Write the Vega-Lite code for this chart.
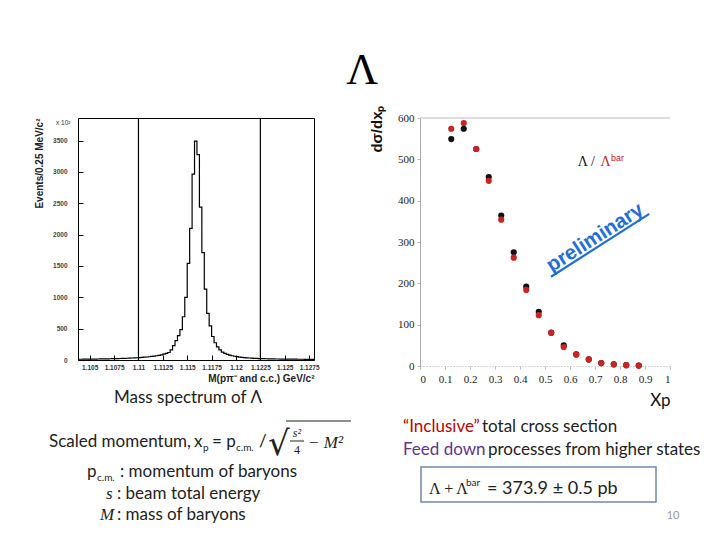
{
"$schema": "https://vega.github.io/schema/vega-lite/v6.json",
"background": "white",
"padding": {"left": 33, "top": 49, "right": 0, "bottom": 0},
"title": {"text": "Λ", "font": "Liberation Serif", "fontSize": 44, "fontWeight": "normal", "color": "black", "anchor": "middle", "offset": 12, "dx": -5},
"columns": 2,
"spacing": {"column": 106, "row": 19},
"bounds": "flush",
"align": "each",
"config": {"view": {"stroke": null}, "axis": {"labelOverlap": false}},
"concat": [
{
 "width": 236, "height": 242,
 "view": {"stroke": "black", "strokeWidth": 1},
 "title": {"text": "x 10²", "font": "Liberation Sans", "fontSize": 6.5, "fontWeight": "normal", "color": "#333", "anchor": "start", "frame": "group", "dx": -22, "offset": -9},
 "layer": [
  {"data": {"values": [
{"m":1.10375,"n":12},{"m":1.104,"n":12},{"m":1.10425,"n":13},{"m":1.1045,"n":13},{"m":1.10475,"n":14},{"m":1.105,"n":14},{"m":1.10525,"n":15},{"m":1.1055,"n":15},{"m":1.10575,"n":16},{"m":1.106,"n":17},{"m":1.10625,"n":17},{"m":1.1065,"n":18},{"m":1.10675,"n":19},{"m":1.107,"n":20},{"m":1.10725,"n":21},{"m":1.1075,"n":22},{"m":1.10775,"n":23},{"m":1.108,"n":24},{"m":1.10825,"n":25},{"m":1.1085,"n":27},{"m":1.10875,"n":28},{"m":1.109,"n":30},{"m":1.10925,"n":32},{"m":1.1095,"n":34},{"m":1.10975,"n":36},{"m":1.11,"n":39},{"m":1.11025,"n":42},{"m":1.1105,"n":45},{"m":1.11075,"n":48},{"m":1.111,"n":52},{"m":1.11125,"n":57},{"m":1.1115,"n":62},{"m":1.11175,"n":68},{"m":1.112,"n":75},{"m":1.11225,"n":83},{"m":1.1125,"n":93},{"m":1.11275,"n":105},{"m":1.113,"n":120},{"m":1.11325,"n":160},{"m":1.1135,"n":230},{"m":1.11375,"n":310},{"m":1.114,"n":390},{"m":1.11425,"n":485},{"m":1.1145,"n":690},{"m":1.11475,"n":1000},{"m":1.115,"n":1540},{"m":1.11525,"n":2100},{"m":1.1155,"n":2965},{"m":1.11575,"n":3490},{"m":1.116,"n":3277},{"m":1.11625,"n":2440},{"m":1.1165,"n":1712},{"m":1.11675,"n":1130},{"m":1.117,"n":745},{"m":1.11725,"n":545},{"m":1.1175,"n":375},{"m":1.11775,"n":275},{"m":1.118,"n":210},{"m":1.11825,"n":160},{"m":1.1185,"n":125},{"m":1.11875,"n":105},{"m":1.119,"n":90},{"m":1.11925,"n":78},{"m":1.1195,"n":68},{"m":1.11975,"n":60},{"m":1.12,"n":53},{"m":1.12025,"n":47},{"m":1.1205,"n":42},{"m":1.12075,"n":38},{"m":1.121,"n":35},{"m":1.12125,"n":32},{"m":1.1215,"n":29},{"m":1.12175,"n":27},{"m":1.122,"n":25},{"m":1.12225,"n":23},{"m":1.1225,"n":22},{"m":1.12275,"n":21},{"m":1.123,"n":20},{"m":1.12325,"n":19},{"m":1.1235,"n":18},{"m":1.12375,"n":17},{"m":1.124,"n":16},{"m":1.12425,"n":16},{"m":1.1245,"n":15},{"m":1.12475,"n":15},{"m":1.125,"n":14},{"m":1.12525,"n":14},{"m":1.1255,"n":13},{"m":1.12575,"n":13},{"m":1.126,"n":13},{"m":1.12625,"n":12},{"m":1.1265,"n":12},{"m":1.12675,"n":12},{"m":1.127,"n":11},{"m":1.12725,"n":11},{"m":1.1275,"n":11},{"m":1.12775,"n":10},{"m":1.128,"n":10}
  ]},
  "mark": {"type": "line", "interpolate": "step-after", "color": "black", "strokeWidth": 1.2, "clip": true},
  "encoding": {
   "x": {"field": "m", "type": "quantitative", "scale": {"domain": [1.1038, 1.128], "nice": false, "zero": false},
    "axis": {"values": [1.105,1.1075,1.11,1.1125,1.115,1.1175,1.12,1.1225,1.125,1.1275], "format": ".4~f", "labelOverlap": false, "labelFont": "Liberation Sans", "labelFontSize": 6.5, "labelFontWeight": "bold", "labelColor": "#333", "tickSize": -5, "tickColor": "black", "labelPadding": 9, "domain": false, "grid": false,
     "title": "M(pπ⁻ and c.c.) GeV/c²", "titleFont": "Liberation Sans", "titleFontSize": 10, "titleFontWeight": "bold", "titleColor": "#222", "titleAnchor": "end", "titlePadding": 3}},
   "y": {"field": "n", "type": "quantitative", "scale": {"domain": [0, 3860], "nice": false},
    "axis": {"values": [0,500,1000,1500,2000,2500,3000,3500], "format": "d", "labelOverlap": false, "labelFont": "Liberation Sans", "labelFontSize": 6.5, "labelFontWeight": "bold", "labelColor": "#444", "tickSize": -5, "tickColor": "black", "labelPadding": 16, "domain": false, "grid": false,
     "title": "Events/0.25 MeV/c²", "titleFont": "Liberation Sans", "titleFontSize": 10, "titleFontWeight": "bold", "titleColor": "#222", "titleAngle": 270, "titleAlign": "right", "titleAnchor": "end", "titleBaseline": "middle", "titleX": -39, "titleY": 0}}
  }},
  {"data": {"values": [{"cut": 1.11}, {"cut": 1.1225}]},
   "mark": {"type": "rule", "color": "black", "strokeWidth": 1.2},
   "encoding": {"x": {"field": "cut", "type": "quantitative", "scale": {"domain": [1.1038, 1.128], "nice": false, "zero": false},
    "axis": {"values": [1.105,1.1075,1.11,1.1125,1.115,1.1175,1.12,1.1225,1.125,1.1275], "format": ".4~f", "labelOverlap": false, "labelFont": "Liberation Sans", "labelFontSize": 6.5, "labelFontWeight": "bold", "labelColor": "#333", "tickSize": -5, "tickColor": "black", "labelPadding": 9, "domain": false, "grid": false,
     "title": "M(pπ⁻ and c.c.) GeV/c²", "titleFont": "Liberation Sans", "titleFontSize": 10, "titleFontWeight": "bold", "titleColor": "#222", "titleAnchor": "end", "titlePadding": 3}}}}
 ]
},
{
 "width": 250, "height": 248,
 "encoding": {
  "x": {"type": "quantitative", "scale": {"domain": [0, 1], "nice": false, "zero": false},
   "axis": {"values": [0,0.1,0.2,0.3,0.4,0.5,0.6,0.7,0.8,0.9,1], "format": "~g", "labelOverlap": false, "labelFont": "Liberation Serif", "labelFontSize": 11, "labelColor": "#222", "tickSize": 3, "tickColor": "#bbb", "labelPadding": 4, "domainColor": "#aaa", "domainDash": [1, 2], "grid": false,
    "title": "Xp", "titleFont": "Lato", "titleFontSize": 17, "titleFontWeight": "normal", "titleColor": "#111", "titleAnchor": "end", "titlePadding": 8}},
  "y": {"type": "quantitative", "scale": {"domain": [0, 600], "nice": false, "zero": false},
   "axis": {"values": [0,100,200,300,400,500,600], "format": "d", "labelOverlap": false, "labelFont": "Liberation Serif", "labelFontSize": 11, "labelColor": "#222", "tickSize": 3, "tickColor": "#bbb", "labelPadding": 3, "domainColor": "#aaa", "grid": false,
    "title": "dσ/dxₚ", "titleFont": "Liberation Sans", "titleFontSize": 15, "titleFontWeight": "bold", "titleColor": "#111", "titleAngle": 270, "titleAlign": "right", "titleAnchor": "end", "titleBaseline": "middle", "titleX": -44, "titleY": -13}}
 },
 "layer": [
  {"data": {"values": [
{"xp":0.125,"ds":549,"s":"Λ"},{"xp":0.175,"ds":574,"s":"Λ"},{"xp":0.225,"ds":525,"s":"Λ"},{"xp":0.275,"ds":457,"s":"Λ"},{"xp":0.325,"ds":364,"s":"Λ"},{"xp":0.375,"ds":275,"s":"Λ"},{"xp":0.425,"ds":192,"s":"Λ"},{"xp":0.475,"ds":131,"s":"Λ"},{"xp":0.525,"ds":81,"s":"Λ"},{"xp":0.575,"ds":50,"s":"Λ"},{"xp":0.625,"ds":28,"s":"Λ"},{"xp":0.675,"ds":16,"s":"Λ"},{"xp":0.725,"ds":7,"s":"Λ"},{"xp":0.775,"ds":4,"s":"Λ"},{"xp":0.825,"ds":2,"s":"Λ"},{"xp":0.875,"ds":1,"s":"Λ"},
{"xp":0.125,"ds":574,"s":"Λbar"},{"xp":0.175,"ds":588,"s":"Λbar"},{"xp":0.225,"ds":525,"s":"Λbar"},{"xp":0.275,"ds":448,"s":"Λbar"},{"xp":0.325,"ds":354,"s":"Λbar"},{"xp":0.375,"ds":262,"s":"Λbar"},{"xp":0.425,"ds":184,"s":"Λbar"},{"xp":0.475,"ds":123,"s":"Λbar"},{"xp":0.525,"ds":80,"s":"Λbar"},{"xp":0.575,"ds":46,"s":"Λbar"},{"xp":0.625,"ds":28,"s":"Λbar"},{"xp":0.675,"ds":16,"s":"Λbar"},{"xp":0.725,"ds":7,"s":"Λbar"},{"xp":0.775,"ds":4,"s":"Λbar"},{"xp":0.825,"ds":2,"s":"Λbar"},{"xp":0.875,"ds":1,"s":"Λbar"}
  ]},
  "mark": {"type": "point", "filled": true, "size": 38, "opacity": 1},
  "encoding": {
   "x": {"field": "xp"},
   "y": {"field": "ds"},
   "color": {"field": "s", "type": "nominal", "scale": {"domain": ["Λ", "Λbar"], "range": ["#111111", "#cc2222"]}, "legend": null}
  }},
  {"data": {"values": [{"frame": "top"}]}, "mark": {"type": "rule", "color": "#bbbbbb", "strokeWidth": 1}, "encoding": {"x": null, "y": {"datum": 600}}},
  {"data": {"values": [{"t": "Λ /"}]}, "mark": {"type": "text", "font": "Liberation Serif", "fontSize": 14, "align": "left", "baseline": "alphabetic", "color": "#111"},
   "encoding": {"text": {"field": "t"}, "x": {"datum": 0.631}, "y": {"datum": 484}}},
  {"data": {"values": [{"t": "Λ"}]}, "mark": {"type": "text", "font": "Liberation Serif", "fontSize": 14, "align": "left", "baseline": "alphabetic", "color": "#cc2222"},
   "encoding": {"text": {"field": "t"}, "x": {"datum": 0.722}, "y": {"datum": 484}}},
  {"data": {"values": [{"t": "bar"}]}, "mark": {"type": "text", "font": "Liberation Sans", "fontSize": 9, "align": "left", "baseline": "alphabetic", "color": "#cc2222"},
   "encoding": {"text": {"field": "t"}, "x": {"datum": 0.764}, "y": {"datum": 497}}},
  {"data": {"values": [{"t": "preliminary"}]}, "mark": {"type": "text", "font": "Liberation Sans", "fontSize": 20.5, "fontWeight": "bold", "align": "center", "baseline": "alphabetic", "angle": -32.6, "color": "#1f6fd6"},
   "encoding": {"text": {"field": "t"}, "x": {"datum": 0.7136}, "y": {"datum": 298}}},
  {"data": {"values": [{"t": "underline"}]}, "mark": {"type": "rule", "color": "#1f6fd6", "strokeWidth": 2.2},
   "encoding": {"x": {"datum": 0.524}, "y": {"datum": 216}, "x2": {"datum": 0.917}, "y2": {"datum": 368}}}
 ]
},
{
 "width": 236, "height": 150,
 "encoding": {
  "x": {"type": "quantitative", "scale": {"domain": [77, 313], "nice": false, "zero": false}, "axis": null},
  "y": {"type": "quantitative", "scale": {"domain": [385, 535], "nice": false, "zero": false, "reverse": true}, "axis": null}
 },
 "layer": [
  {"data": {"values": [{"t": "Mass spectrum of Λ"}]}, "mark": {"type": "text", "font": "Lato", "fontSize": 17, "align": "center", "baseline": "middle", "color": "#222"},
   "encoding": {"text": {"field": "t"}, "x": {"datum": 187}, "y": {"datum": 398}}},
  {"data": {"values": [{"t": "Scaled momentum,"}]}, "mark": {"type": "text", "font": "Lato", "fontSize": 17, "align": "left", "baseline": "alphabetic", "color": "#222"},
   "encoding": {"text": {"field": "t"}, "x": {"datum": 48}, "y": {"datum": 447}}},
  {"data": {"values": [{"t": "x"}]}, "mark": {"type": "text", "font": "Lato", "fontSize": 17, "align": "left", "baseline": "alphabetic", "color": "#222"},
   "encoding": {"text": {"field": "t"}, "x": {"datum": 193}, "y": {"datum": 447}}},
  {"data": {"values": [{"t": "p"}]}, "mark": {"type": "text", "font": "Lato", "fontSize": 10, "align": "left", "baseline": "alphabetic", "color": "#222"},
   "encoding": {"text": {"field": "t"}, "x": {"datum": 202}, "y": {"datum": 451}}},
  {"data": {"values": [{"t": "= p"}]}, "mark": {"type": "text", "font": "Lato", "fontSize": 17, "align": "left", "baseline": "alphabetic", "color": "#222"},
   "encoding": {"text": {"field": "t"}, "x": {"datum": 211}, "y": {"datum": 447}}},
  {"data": {"values": [{"t": "c.m."}]}, "mark": {"type": "text", "font": "Lato", "fontSize": 10, "align": "left", "baseline": "alphabetic", "color": "#222"},
   "encoding": {"text": {"field": "t"}, "x": {"datum": 235}, "y": {"datum": 451}}},
  {"data": {"values": [{"t": "/"}]}, "mark": {"type": "text", "font": "Lato", "fontSize": 17, "align": "left", "baseline": "alphabetic", "color": "#222"},
   "encoding": {"text": {"field": "t"}, "x": {"datum": 258}, "y": {"datum": 447}}},
  {"data": {"values": [{"t": "√"}]}, "mark": {"type": "text", "font": "DejaVu Serif", "fontSize": 34, "align": "left", "baseline": "alphabetic", "color": "#222"},
   "encoding": {"text": {"field": "t"}, "x": {"datum": 267}, "y": {"datum": 455}}},
  {"data": {"values": [{"t": "radical bar"}]}, "mark": {"type": "rule", "color": "#222", "strokeWidth": 1.2},
   "encoding": {"x": {"datum": 285}, "x2": {"datum": 350}, "y": {"datum": 421}, "y2": {"datum": 421}}},
  {"data": {"values": [{"t": "s²"}]}, "mark": {"type": "text", "font": "Liberation Serif", "fontSize": 12, "fontStyle": "italic", "align": "center", "baseline": "alphabetic", "color": "#222"},
   "encoding": {"text": {"field": "t"}, "x": {"datum": 296}, "y": {"datum": 437}}},
  {"data": {"values": [{"t": "fraction bar"}]}, "mark": {"type": "rule", "color": "#222", "strokeWidth": 1},
   "encoding": {"x": {"datum": 289}, "x2": {"datum": 303}, "y": {"datum": 441}, "y2": {"datum": 441}}},
  {"data": {"values": [{"t": "4"}]}, "mark": {"type": "text", "font": "Liberation Serif", "fontSize": 12, "align": "center", "baseline": "alphabetic", "color": "#222"},
   "encoding": {"text": {"field": "t"}, "x": {"datum": 296}, "y": {"datum": 454}}},
  {"data": {"values": [{"t": "− M²"}]}, "mark": {"type": "text", "font": "Liberation Serif", "fontSize": 17, "fontStyle": "italic", "align": "left", "baseline": "alphabetic", "color": "#222"},
   "encoding": {"text": {"field": "t"}, "x": {"datum": 307}, "y": {"datum": 448}}},
  {"data": {"values": [{"t": "p"}]}, "mark": {"type": "text", "font": "Lato", "fontSize": 17, "align": "left", "baseline": "alphabetic", "color": "#222"},
   "encoding": {"text": {"field": "t"}, "x": {"datum": 86}, "y": {"datum": 477}}},
  {"data": {"values": [{"t": "c.m."}]}, "mark": {"type": "text", "font": "Lato", "fontSize": 10, "align": "left", "baseline": "alphabetic", "color": "#222"},
   "encoding": {"text": {"field": "t"}, "x": {"datum": 96}, "y": {"datum": 481}}},
  {"data": {"values": [{"t": ": momentum of baryons"}]}, "mark": {"type": "text", "font": "Lato", "fontSize": 17, "align": "left", "baseline": "alphabetic", "color": "#222"},
   "encoding": {"text": {"field": "t"}, "x": {"datum": 119}, "y": {"datum": 477}}},
  {"data": {"values": [{"t": "s"}]}, "mark": {"type": "text", "font": "Liberation Serif", "fontSize": 17, "fontStyle": "italic", "align": "left", "baseline": "alphabetic", "color": "#222"},
   "encoding": {"text": {"field": "t"}, "x": {"datum": 105}, "y": {"datum": 499}}},
  {"data": {"values": [{"t": ": beam total energy"}]}, "mark": {"type": "text", "font": "Lato", "fontSize": 17, "align": "left", "baseline": "alphabetic", "color": "#222"},
   "encoding": {"text": {"field": "t"}, "x": {"datum": 116}, "y": {"datum": 499}}},
  {"data": {"values": [{"t": "M"}]}, "mark": {"type": "text", "font": "Liberation Serif", "fontSize": 17, "fontStyle": "italic", "align": "left", "baseline": "alphabetic", "color": "#222"},
   "encoding": {"text": {"field": "t"}, "x": {"datum": 99}, "y": {"datum": 520}}},
  {"data": {"values": [{"t": ": mass of baryons"}]}, "mark": {"type": "text", "font": "Lato", "fontSize": 17, "align": "left", "baseline": "alphabetic", "color": "#222"},
   "encoding": {"text": {"field": "t"}, "x": {"datum": 116}, "y": {"datum": 520}}}
 ]
},
{
 "width": 250, "height": 150,
 "encoding": {
  "x": {"type": "quantitative", "scale": {"domain": [419, 669], "nice": false, "zero": false}, "axis": null},
  "y": {"type": "quantitative", "scale": {"domain": [385, 535], "nice": false, "zero": false, "reverse": true}, "axis": null}
 },
 "layer": [
  {"data": {"values": [{"t": "“Inclusive”"}]}, "mark": {"type": "text", "font": "Lato", "fontSize": 17, "align": "left", "baseline": "alphabetic", "color": "#c00000"},
   "encoding": {"text": {"field": "t"}, "x": {"datum": 402}, "y": {"datum": 432}}},
  {"data": {"values": [{"t": "total cross section"}]}, "mark": {"type": "text", "font": "Lato", "fontSize": 17, "align": "left", "baseline": "alphabetic", "color": "#222"},
   "encoding": {"text": {"field": "t"}, "x": {"datum": 481}, "y": {"datum": 432}}},
  {"data": {"values": [{"t": "Feed down"}]}, "mark": {"type": "text", "font": "Lato", "fontSize": 17, "align": "left", "baseline": "alphabetic", "color": "#5e3590"},
   "encoding": {"text": {"field": "t"}, "x": {"datum": 402}, "y": {"datum": 455}}},
  {"data": {"values": [{"t": "processes from higher states"}]}, "mark": {"type": "text", "font": "Lato", "fontSize": 17, "align": "left", "baseline": "alphabetic", "color": "#222"},
   "encoding": {"text": {"field": "t"}, "x": {"datum": 487}, "y": {"datum": 455}}},
  {"data": {"values": [{"t": "box"}]}, "mark": {"type": "rect", "fill": null, "stroke": "#7088b0", "strokeWidth": 1.5},
   "encoding": {"x": {"datum": 420}, "x2": {"datum": 655}, "y": {"datum": 467}, "y2": {"datum": 502}}},
  {"data": {"values": [{"t": "Λ + Λ"}]}, "mark": {"type": "text", "font": "Liberation Serif", "fontSize": 16, "align": "left", "baseline": "alphabetic", "color": "#222"},
   "encoding": {"text": {"field": "t"}, "x": {"datum": 428}, "y": {"datum": 494}}},
  {"data": {"values": [{"t": "bar"}]}, "mark": {"type": "text", "font": "Lato", "fontSize": 10, "align": "left", "baseline": "alphabetic", "color": "#222"},
   "encoding": {"text": {"field": "t"}, "x": {"datum": 465}, "y": {"datum": 486}}},
  {"data": {"values": [{"t": "= 373.9 ± 0.5 pb"}]}, "mark": {"type": "text", "font": "Lato", "fontSize": 18, "align": "left", "baseline": "alphabetic", "color": "#222"},
   "encoding": {"text": {"field": "t"}, "x": {"datum": 486}, "y": {"datum": 494}}},
  {"data": {"values": [{"t": "10"}]}, "mark": {"type": "text", "font": "Lato", "fontSize": 11, "align": "center", "baseline": "middle", "color": "#999"},
   "encoding": {"text": {"field": "t"}, "x": {"datum": 672}, "y": {"datum": 516}}}
 ]
}
]
}
